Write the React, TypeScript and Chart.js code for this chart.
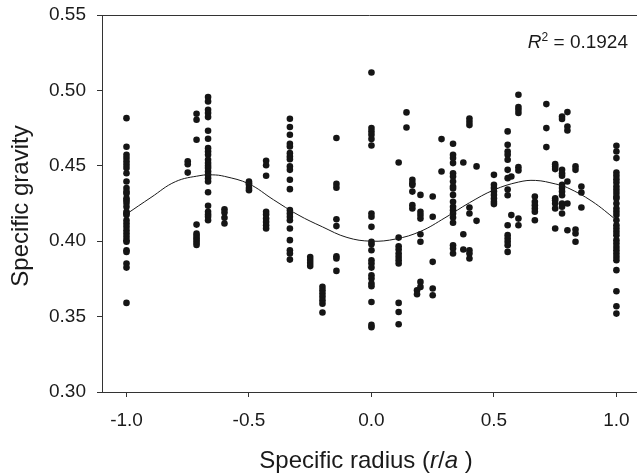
import React, { useEffect, useRef } from "react";
import { Chart, registerables } from "chart.js";

Chart.register(...registerables);

const FONT = '"Liberation Sans", Arial, Helvetica, sans-serif';

// Tick labels
const xTicks = [-1.0, -0.5, 0.0, 0.5, 1.0];
const yTicks = [0.3, 0.35, 0.4, 0.45, 0.5, 0.55];

// Scatter columns (specific radius positions)
const colX = [
  -1.0, -0.75, -0.714, -0.667, -0.6, -0.5, -0.43, -0.333, -0.25, -0.2, -0.143,
  0.0, 0.111, 0.143, 0.167, 0.186, 0.2, 0.25, 0.286, 0.333, 0.375, 0.4, 0.429,
  0.5, 0.556, 0.571, 0.6, 0.667, 0.714, 0.75, 0.778, 0.8, 0.833, 0.857, 1.0,
];

// Specific gravity values for each column
const colY: number[][] = [
  [0.4816, 0.4626, 0.4573, 0.4551, 0.4529, 0.4507, 0.4485, 0.4451, 0.4396, 0.4352, 0.433, 0.4316, 0.4285, 0.4272, 0.4254, 0.4228, 0.4195, 0.4184, 0.4173, 0.4139, 0.4117, 0.4095, 0.4073, 0.4051, 0.4029, 0.4007, 0.3996, 0.394, 0.3929, 0.3852, 0.3825, 0.3591],
  [0.453, 0.451, 0.4455],
  [0.4845, 0.4805, 0.4673, 0.411, 0.405, 0.4035, 0.402, 0.4005, 0.399, 0.3975],
  [0.4956, 0.4927, 0.4872, 0.485, 0.4823, 0.4732, 0.4679, 0.4617, 0.4595, 0.4573, 0.454, 0.4518, 0.45, 0.4485, 0.4462, 0.444, 0.4418, 0.4396, 0.4325, 0.4235, 0.4195, 0.4177, 0.4162, 0.4139],
  [0.4212, 0.419, 0.4155, 0.4117],
  [0.4396, 0.4385, 0.4374, 0.4352, 0.4338],
  [0.4533, 0.4504, 0.4434, 0.4195, 0.4177, 0.415, 0.4128, 0.4106, 0.4084],
  [0.4812, 0.4757, 0.4706, 0.4646, 0.4628, 0.4584, 0.4562, 0.4544, 0.4496, 0.4473, 0.4407, 0.4345, 0.4206, 0.4184, 0.4162, 0.4139, 0.4084, 0.4007, 0.394, 0.3918, 0.3878],
  [0.3895, 0.3875, 0.3855, 0.3835],
  [0.3697, 0.3675, 0.3653, 0.3631, 0.3608, 0.3586, 0.3527],
  [0.4684, 0.438, 0.4355, 0.4146, 0.41, 0.39, 0.3885, 0.3803],
  [0.5119, 0.475, 0.4728, 0.4706, 0.4677, 0.4635, 0.4184, 0.4162, 0.4095, 0.3996, 0.398, 0.394, 0.3874, 0.3852, 0.3825, 0.3774, 0.3752, 0.3719, 0.3701, 0.3597, 0.3445, 0.343],
  [0.4522, 0.4024, 0.3967, 0.3945, 0.3918, 0.3896, 0.3874, 0.3852, 0.3591, 0.3531, 0.3449],
  [0.4854, 0.4754],
  [0.4407, 0.4385, 0.4372, 0.4329, 0.4239, 0.4217],
  [0.3675, 0.3648],
  [0.4307, 0.4195, 0.4173, 0.415, 0.4046, 0.3996, 0.373, 0.3697],
  [0.4296, 0.4162, 0.3863, 0.3686, 0.3642],
  [0.4677, 0.4462],
  [0.4646, 0.4573, 0.4551, 0.4518, 0.4451, 0.4429, 0.4396, 0.4363, 0.435, 0.4307, 0.4261, 0.4228, 0.4206, 0.4184, 0.4157, 0.4122, 0.3973, 0.3951, 0.3918],
  [0.4522, 0.4046, 0.3945],
  [0.4814, 0.4792, 0.477, 0.4223, 0.4184, 0.394, 0.3918, 0.3885],
  [0.4496, 0.4135],
  [0.444, 0.4374, 0.4352, 0.433, 0.4307, 0.4283, 0.4261, 0.4246],
  [0.4728, 0.4639, 0.4595, 0.4573, 0.454, 0.4473, 0.4418, 0.4343, 0.4305, 0.4106, 0.404, 0.4018, 0.3996, 0.3973, 0.3929],
  [0.4429, 0.4173],
  [0.4971, 0.489, 0.4872, 0.485, 0.4491, 0.4469, 0.415, 0.4106],
  [0.4296, 0.4261, 0.4239, 0.4217, 0.4195, 0.4139],
  [0.4909, 0.475, 0.4624],
  [0.4511, 0.4496, 0.4478, 0.4285, 0.4272, 0.425, 0.4217, 0.4084],
  [0.4827, 0.481, 0.4473, 0.4451, 0.4434, 0.4374, 0.4352, 0.433, 0.4305, 0.425, 0.4228, 0.4184],
  [0.4856, 0.4761, 0.4734, 0.4396, 0.425, 0.4073],
  [0.4496, 0.4473, 0.4077, 0.4051, 0.3996],
  [0.4363, 0.4323, 0.4223],
  [0.4633, 0.4595, 0.4551, 0.4456, 0.4434, 0.4411, 0.4389, 0.4363, 0.4341, 0.4319, 0.4296, 0.4283, 0.425, 0.4217, 0.4195, 0.4173, 0.4139, 0.4106, 0.4084, 0.4062, 0.404, 0.4007, 0.3985, 0.3962, 0.394, 0.3918, 0.3896, 0.3874, 0.3808, 0.3668, 0.3569, 0.352],
];

// Fitted curve
const curveX = [-1.0, -0.9, -0.8, -0.7, -0.65, -0.6, -0.5, -0.4, -0.3, -0.2, -0.1, 0.0, 0.1, 0.2, 0.3, 0.4, 0.5, 0.6, 0.67, 0.75, 0.8, 0.9, 1.0];
const curveY = [0.418, 0.429, 0.4395, 0.4435, 0.444, 0.443, 0.438, 0.4275, 0.4175, 0.4095, 0.4025, 0.4, 0.4015, 0.4065, 0.4155, 0.4255, 0.434, 0.4392, 0.4403, 0.438, 0.4355, 0.4265, 0.414];

const rSquared = "0.1924";

export default function App() {
  const ref = useRef<HTMLCanvasElement>(null);

  useEffect(() => {
    if (!ref.current) return;
    const points: { x: number; y: number }[] = [];
    colX.forEach((x, i) => colY[i].forEach((y) => points.push({ x, y })));
    const curve = curveX.map((x, i) => ({ x, y: curveY[i] }));

    const decor = {
      id: "decor",
      afterDraw(chart: any) {
        const ctx = chart.ctx as CanvasRenderingContext2D;
        const area = chart.chartArea;
        ctx.save();
        // top frame line
        ctx.strokeStyle = "#333";
        ctx.lineWidth = 1;
        ctx.beginPath();
        ctx.moveTo(area.left, Math.round(area.top) + 0.5);
        ctx.lineTo(area.right, Math.round(area.top) + 0.5);
        ctx.stroke();

        ctx.fillStyle = "#1a1a1a";
        // y title
        ctx.save();
        ctx.translate(28, 206);
        ctx.rotate(-Math.PI / 2);
        ctx.font = `24px ${FONT}`;
        ctx.textAlign = "center";
        ctx.textBaseline = "alphabetic";
        ctx.fillText("Specific gravity", 0, 0);
        ctx.restore();

        // x title with italic parts
        const segs: [string, boolean][] = [
          ["Specific radius (", false],
          ["r", true],
          ["/", false],
          ["a", true],
          [" )", false],
        ];
        ctx.textAlign = "left";
        ctx.textBaseline = "alphabetic";
        let total = 0;
        segs.forEach(([t, it]) => {
          ctx.font = `${it ? "italic " : ""}24px ${FONT}`;
          total += ctx.measureText(t).width;
        });
        let xx = 366 - total / 2;
        segs.forEach(([t, it]) => {
          ctx.font = `${it ? "italic " : ""}24px ${FONT}`;
          ctx.fillText(t, xx, 467.5);
          xx += ctx.measureText(t).width;
        });

        // R^2 label
        const parts: [string, string, number][] = [
          ["R", `italic 19px ${FONT}`, 0],
          ["2", `12px ${FONT}`, -7],
          [" = " + rSquared, `19px ${FONT}`, 0],
        ];
        let w = 0;
        parts.forEach(([t, f]) => {
          ctx.font = f;
          w += ctx.measureText(t).width;
        });
        let rx = 628 - w;
        parts.forEach(([t, f, dy]) => {
          ctx.font = f;
          ctx.fillText(t, rx, 48 + dy);
          rx += ctx.measureText(t).width;
        });
        ctx.restore();
      },
    };

    const tickFont = { family: FONT, size: 19 };
    const chart = new Chart(ref.current, {
      type: "scatter",
      data: {
        datasets: [
          {
            type: "line",
            data: curve,
            borderColor: "#1a1a1a",
            borderWidth: 1,
            pointRadius: 0,
            tension: 0.4,
            fill: false,
          } as any,
          {
            data: points,
            pointRadius: 3.3,
            pointHoverRadius: 3.3,
            backgroundColor: "#151515",
            borderWidth: 0,
          },
        ],
      },
      options: {
        animation: false,
        responsive: false,
        devicePixelRatio: 1,
        layout: { autoPadding: false, padding: { top: 15, left: 0, right: 0, bottom: 0 } },
        plugins: { legend: { display: false }, tooltip: { enabled: false } },
        scales: {
          x: {
            type: "linear",
            min: -1.1,
            max: 1.084,
            afterBuildTicks: (s: any) => {
              s.ticks = xTicks.map((v) => ({ value: v }));
            },
            afterFit: (s: any) => {
              s.height = 83;
              s.paddingLeft = 0;
              s.paddingRight = 0;
            },
            grid: { drawOnChartArea: false, drawTicks: true, tickLength: 5, tickColor: "#333" },
            border: { color: "#333", width: 1 },
            ticks: {
              padding: 12,
              font: tickFont,
              color: "#1a1a1a",
              maxRotation: 0,
              autoSkip: false,
              callback: (v: any) => Number(v).toFixed(1),
            },
          },
          y: {
            type: "linear",
            min: 0.3,
            max: 0.55,
            afterBuildTicks: (s: any) => {
              s.ticks = yTicks.map((v) => ({ value: v }));
            },
            afterFit: (s: any) => {
              s.width = 102;
              s.paddingTop = 0;
              s.paddingBottom = 0;
            },
            grid: { drawOnChartArea: false, drawTicks: true, tickLength: 5, tickColor: "#333" },
            border: { color: "#333", width: 1 },
            ticks: {
              padding: 11,
              font: tickFont,
              color: "#1a1a1a",
              autoSkip: false,
              callback: (v: any) => Number(v).toFixed(2),
            },
          },
        },
      },
      plugins: [decor],
    });
    return () => chart.destroy();
  }, []);

  return (
    <div style={{ position: "fixed", left: 0, top: 0, width: 637, height: 475, background: "#fff" }}>
      <canvas ref={ref} width={637} height={475} style={{ display: "block" }} />
    </div>
  );
}
